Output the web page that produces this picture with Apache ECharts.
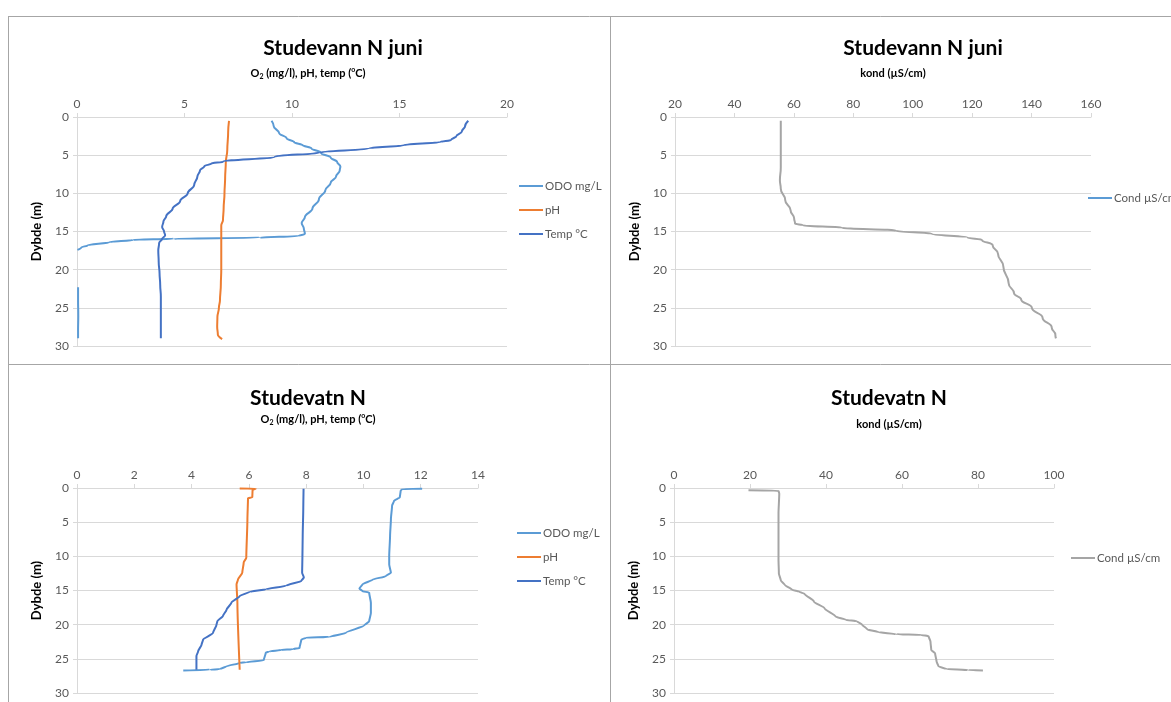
<!DOCTYPE html>
<html><head><meta charset="utf-8">
<script src="https://cdn.jsdelivr.net/npm/echarts@6/dist/echarts.min.js"></script>
<style>html,body{margin:0;padding:0;background:#fff}#c{width:1171px;height:702px}</style>
</head><body><div id="c"></div>
<script>
// ---------- Panel 1: Studevann N juni (O2, pH, temp) ----------
const juniOdoDepth = [0.5, 1.2, 2.1, 2.8, 3.3, 3.7, 4.1, 4.7, 5.3, 5.9, 6.5, 7.0, 7.8, 8.6, 9.6, 10.8, 12.0, 13.1, 13.9, 14.6, 15.3, 15.6, 15.8, 15.95, 16.1, 16.4, 16.8, 17.1, 17.4, 20.0, 22.3, 24.0, 26.0, 28.0, 29.0];
const juniOdo      = [9.05, 9.15, 9.4, 9.75, 10.1, 10.5, 10.9, 11.35, 11.8, 12.1, 12.25, 12.22, 12.05, 11.8, 11.55, 11.25, 10.95, 10.6, 10.45, 10.55, 10.6, 10.3, 8.5, 4.5, 2.6, 1.5, 0.5, 0.2, 0.02, null, 0.05, 0.05, 0.06, 0.05, 0.05];
const juniTempDepth = [0.5, 1.2, 1.9, 2.5, 3.0, 3.27, 3.7, 4.1, 4.65, 5.2, 5.85, 6.1, 6.45, 7.0, 7.8, 8.9, 10.0, 11.0, 12.0, 13.0, 13.7, 14.4, 15.0, 15.5, 16.0, 16.5, 17.5, 19.0, 20.5, 22.0, 23.5, 25.0, 27.0, 29.0];
const juniTemp      = [18.2, 18.05, 17.9, 17.65, 17.4, 16.9, 15.2, 13.6, 11.3, 9.2, 6.8, 6.25, 5.92, 5.72, 5.6, 5.45, 5.15, 4.8, 4.45, 4.15, 4.02, 3.96, 4.05, 4.1, 3.95, 3.82, 3.78, 3.8, 3.84, 3.87, 3.9, 3.9, 3.9, 3.9];
const juniPhDepth = [0.5, 2.0, 4.3, 6.0, 8.0, 10.0, 12.0, 13.5, 14.2, 16.0, 18.0, 20.0, 22.0, 24.0, 25.0, 26.2, 27.5, 28.5, 29.1];
const juniPh      = [7.07, 7.03, 6.99, 6.92, 6.89, 6.86, 6.82, 6.79, 6.71, 6.71, 6.71, 6.71, 6.69, 6.65, 6.6, 6.53, 6.52, 6.55, 6.75];
// ---------- Panel 2: Studevann N juni (conductivity) ----------
const juniCondDepth = [0.5, 3.0, 6.6, 8.3, 9.4, 10.9, 12.2, 13.3, 13.95, 14.2, 14.5, 14.9, 15.3, 15.8, 16.1, 16.8, 17.9, 19.6, 21.8, 23.1, 23.9, 25.0, 26.3, 27.6, 28.5, 29.0];
const juniCond      = [55.6, 55.6, 55.6, 55.3, 55.6, 57.1, 58.9, 60.1, 60.4, 63.1, 76.3, 94.4, 106.4, 118.5, 123.3, 126.9, 128.7, 130.5, 132.3, 134.1, 136.5, 140.1, 143.7, 146.8, 148.0, 148.2];
// ---------- Panel 3: Studevatn N (O2, pH, temp) ----------
const nOdoDepth = [0.1, 0.15, 0.4, 1.37, 1.86, 2.6, 4.55, 7.0, 9.9, 11.2, 12.4, 12.9, 13.4, 14.1, 14.7, 15.1, 15.3, 16.8, 18.3, 19.5, 20.1, 21.2, 21.8, 21.9, 22.2, 23.4, 23.6, 23.7, 23.9, 24.1, 25.2, 25.5, 25.6, 26.1, 26.5, 26.6, 26.7];
const nOdo      = [12.05, 11.35, 11.3, 11.27, 11.07, 11.0, 10.96, 10.93, 10.9, 10.9, 10.96, 10.78, 10.32, 9.97, 9.86, 9.97, 10.2, 10.26, 10.26, 10.2, 10.03, 9.39, 8.81, 8.0, 7.83, 7.77, 7.54, 7.13, 6.72, 6.59, 6.52, 5.91, 5.68, 5.22, 4.99, 4.64, 3.71];
const nTempDepth = [0.1, 3.0, 7.0, 10.0, 12.4, 13.1, 13.6, 14.3, 14.8, 15.2, 15.8, 16.8, 17.8, 18.7, 19.5, 20.0, 21.2, 22.2, 22.9, 23.9, 24.6, 26.6];
const nTemp      = [7.91, 7.9, 7.88, 7.87, 7.86, 7.92, 7.83, 7.3, 6.6, 6.03, 5.68, 5.39, 5.22, 5.1, 4.9, 4.87, 4.75, 4.4, 4.35, 4.23, 4.17, 4.17];
const nPhDepth = [0.08, 0.1, 0.25, 1.37, 1.5, 4.55, 10.2, 10.9, 12.4, 13.4, 14.1, 16.8, 26.6];
const nPh      = [5.68, 6.24, 6.13, 6.12, 5.97, 5.95, 5.91, 5.82, 5.77, 5.62, 5.57, 5.6, 5.68];
// ---------- Panel 4: Studevatn N (conductivity) ----------
const nCondDepth = [0.34, 0.39, 0.83, 3.7, 10.5, 12.5, 13.5, 14.2, 14.9, 15.2, 15.5, 16.6, 17.6, 18.8, 19.3, 19.5, 20.0, 20.7, 21.1, 21.4, 21.5, 21.7, 22.5, 23.7, 24.2, 25.4, 26.1, 26.5, 26.65, 26.7];
const nCond      = [19.6, 27.5, 27.7, 27.5, 27.5, 27.6, 28.1, 29.2, 31.1, 33.0, 34.4, 36.8, 39.6, 42.5, 45.3, 48.1, 49.5, 50.9, 53.8, 58.5, 65.1, 67.0, 67.5, 67.7, 68.7, 69.1, 69.6, 71.7, 77.4, 81.3];
// ---------- Axis ticks / labels ----------
const depthTicks = {min: 0, max: 30, interval: 5};
const xTicks1 = {min: 0, max: 20, interval: 5};
const xTicks2 = {min: 20, max: 160, interval: 20};
const xTicks3 = {min: 0, max: 14, interval: 2};
const xTicks4 = {min: 0, max: 100, interval: 20};
const titles = ['Studevann N juni', 'Studevann N juni', 'Studevatn N', 'Studevatn N'];
const subO2 = 'O{sub|2} (mg/l), pH, temp ({sup|o}C)';
const subKond = 'kond (µS/cm)';
const depthName = 'Dybde (m)';
const names = {odo: 'ODO mg/L', ph: 'pH', temp: 'Temp °C', cond: 'Cond µS/cm'};

const FONT = 'Lato, "Open Sans", sans-serif';
const C = {odo: '#5B9BD5', ph: '#ED7D31', temp: '#4472C4', cond: '#A5A5A5', grid: '#D9D9D9', label: '#595959', frame: '#A6A6A6'};

function pairs(vals, depths) {
  return vals.map((v, i) => v === null ? ['-', depths[i]] : [v, depths[i]]);
}
function xAx(idx, t) {
  return {
    type: 'value', gridIndex: idx, position: 'top', min: t.min, max: t.max, interval: t.interval,
    axisLine: {show: true, onZero: false, lineStyle: {color: C.grid, width: 1}},
    axisTick: {show: true, length: 4, lineStyle: {color: C.grid}},
    axisLabel: {color: C.label, fontSize: 12, fontFamily: FONT, margin: 7},
    splitLine: {show: false}
  };
}
function yAx(idx) {
  return {
    type: 'value', gridIndex: idx, inverse: true, min: depthTicks.min, max: depthTicks.max, interval: depthTicks.interval,
    name: depthName, nameLocation: 'middle', nameGap: 34,
    nameTextStyle: {fontWeight: 'bold', fontSize: 13, color: '#000', fontFamily: FONT},
    axisLine: {show: true, onZero: false, lineStyle: {color: C.grid, width: 1}},
    axisTick: {show: true, length: 4, lineStyle: {color: C.grid}},
    axisLabel: {color: C.label, fontSize: 12, fontFamily: FONT, margin: 8},
    splitLine: {show: true, lineStyle: {color: C.grid, width: 1}}
  };
}
function ser(name, color, vals, depths, idx, smooth) {
  return {
    type: 'line', name: name, xAxisIndex: idx, yAxisIndex: idx,
    data: pairs(vals, depths), symbol: 'none', showSymbol: false,
    smooth: smooth, smoothMonotone: 'y', connectNulls: false,
    lineStyle: {color: color, width: 2}, itemStyle: {color: color},
    emphasis: {disabled: true}
  };
}
function mainTitle(text, x, y) {
  return {text: text, left: x, top: y, textAlign: 'center', padding: 0,
    textStyle: {fontSize: 21, fontWeight: 'bold', color: '#000', fontFamily: FONT}};
}
function subTitle(text, x, y) {
  return {text: text, left: x, top: y, textAlign: 'center', padding: 0,
    textStyle: {fontSize: 11, fontWeight: 'bold', color: '#000', fontFamily: FONT, lineHeight: 14,
      rich: {
        sub: {fontSize: 7, fontWeight: 'bold', fontFamily: FONT, color: '#000', verticalAlign: 'bottom', lineHeight: 10, padding: [5, 0, 0, 0]},
        sup: {fontSize: 7, fontWeight: 'bold', fontFamily: FONT, color: '#000', verticalAlign: 'top', lineHeight: 10}
      }}};
}
function leg(data, x, y) {
  return {data: data, left: x, top: y, orient: 'vertical', icon: 'rect', itemWidth: 24, itemHeight: 2, itemGap: 12,
    selectedMode: false, padding: 0,
    textStyle: {color: C.label, fontSize: 11.5, fontFamily: FONT, padding: [0, 0, 0, -3]}};
}
function hline(x1, x2, y) { return {type: 'line', shape: {x1: x1, y1: y, x2: x2, y2: y}, style: {stroke: C.frame, lineWidth: 1}, silent: true}; }
function vline(x, y1, y2) { return {type: 'line', shape: {x1: x, y1: y1, x2: x, y2: y2}, style: {stroke: C.frame, lineWidth: 1}, silent: true}; }

const chart = echarts.init(document.getElementById('c'), null, {renderer: 'canvas'});

chart.setOption({
  animation: false,
  backgroundColor: '#fff',
  title: [
    mainTitle(titles[0], 343, 38), mainTitle(titles[1], 923, 38),
    mainTitle(titles[2], 308, 388), mainTitle(titles[3], 889, 388),
    subTitle(subO2, 308, 66), subTitle(subKond, 893, 66),
    subTitle(subO2, 318, 412), subTitle(subKond, 889, 417)
  ],
  grid: [
    {left: 77, top: 117, width: 430, height: 229, outerBoundsMode: 'none'},
    {left: 675, top: 117, width: 416, height: 229, outerBoundsMode: 'none'},
    {left: 77, top: 488, width: 401, height: 205, outerBoundsMode: 'none'},
    {left: 674, top: 488, width: 380, height: 205, outerBoundsMode: 'none'}
  ],
  xAxis: [xAx(0, xTicks1), xAx(1, xTicks2), xAx(2, xTicks3), xAx(3, xTicks4)],
  yAxis: [yAx(0), yAx(1), yAx(2), yAx(3)],
  legend: [
    leg([names.odo, names.ph, names.temp], 519, 180),
    leg([{name: names.cond, itemStyle: {color: C.odo}}], 1088, 192),
    leg([names.odo, names.ph, names.temp], 517, 527),
    leg([names.cond], 1071, 552)
  ],
  series: [
    ser(names.odo, C.odo, juniOdo, juniOdoDepth, 0, 0.4),
    ser(names.ph, C.ph, juniPh, juniPhDepth, 0, 0.4),
    ser(names.temp, C.temp, juniTemp, juniTempDepth, 0, 0.4),
    ser(names.cond, C.cond, juniCond, juniCondDepth, 1, 0.5),
    ser(names.odo, C.odo, nOdo, nOdoDepth, 2, 0.2),
    ser(names.ph, C.ph, nPh, nPhDepth, 2, 0.2),
    ser(names.temp, C.temp, nTemp, nTempDepth, 2, 0.2),
    ser(names.cond, C.cond, nCond, nCondDepth, 3, 0.2)
  ],
  graphic: [
    hline(8, 1171, 16.5),
    hline(8, 1171, 364.5),
    vline(8.5, 16, 702),
    vline(610.5, 16, 702)
  ]
});
</script>
</body></html>
